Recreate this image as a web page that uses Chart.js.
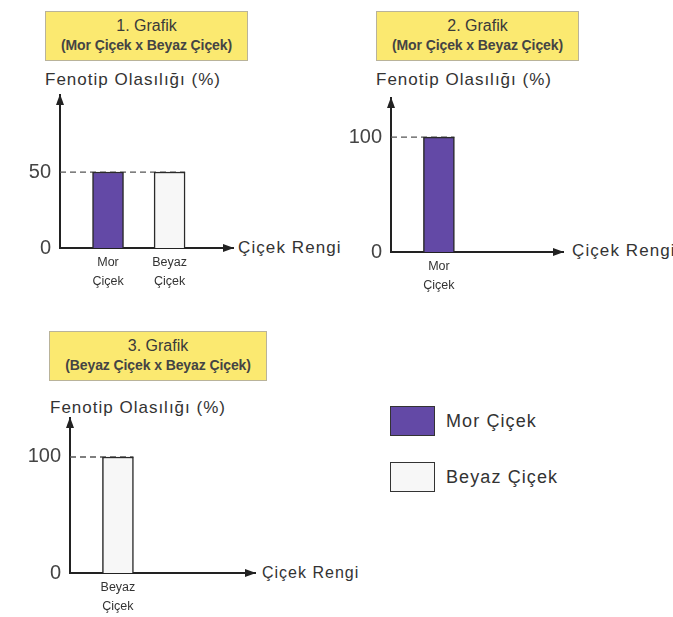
<!DOCTYPE html>
<html>
<head>
<meta charset="utf-8">
<script src="https://cdn.jsdelivr.net/npm/chart.js@4.4.1/dist/chart.umd.min.js"></script>
<style>
  html, body { margin:0; padding:0; background:#fff; }
  body { width:673px; height:617px; position:relative; overflow:hidden; font-family:"Liberation Sans", Arial, sans-serif; color:#333; }
  canvas { position:absolute; }
  .tbox { position:absolute; background:#fbe970; border:1px solid #b9b39a; box-sizing:border-box; text-align:center; color:#3a3a3a; white-space:nowrap; }
  .tbox .t1 { font-size:16px; line-height:18px; margin-top:5px; }
  .tbox .t2 { font-size:14px; line-height:18px; font-weight:bold; color:#444; margin-top:1px; letter-spacing:-0.1px; }
  .ylab { position:absolute; font-size:17px; letter-spacing:1px; color:#333; white-space:nowrap; line-height:20px; }
  .xlab { position:absolute; font-size:17px; letter-spacing:1.1px; color:#333; white-space:nowrap; line-height:20px; }
  .sw { position:absolute; width:45px; height:30px; box-sizing:border-box; border:1.5px solid #333; }
  .lt { position:absolute; font-size:18px; letter-spacing:1.1px; color:#333; white-space:nowrap; line-height:20px; }
</style>
</head>
<body>
<div class="tbox" style="left:45px;top:11px;width:203px;height:50px;"><div class="t1">1. Grafik</div><div class="t2">(Mor Çiçek x Beyaz Çiçek)</div></div>
<div class="ylab" style="left:45px;top:70px;">Fenotip Olasılığı (%)</div>
<div class="xlab" style="left:238px;top:238px;">Çiçek Rengi</div>
<canvas id="c1" width="350" height="300" style="left:0;top:0;"></canvas>

<div class="tbox" style="left:376px;top:11px;width:203px;height:50px;"><div class="t1">2. Grafik</div><div class="t2">(Mor Çiçek x Beyaz Çiçek)</div></div>
<div class="ylab" style="left:376px;top:70px;">Fenotip Olasılığı (%)</div>
<div class="xlab" style="left:572px;top:241px;">Çiçek Rengi</div>
<canvas id="c2" width="343" height="300" style="left:330px;top:0;"></canvas>

<div class="tbox" style="left:49px;top:331px;width:218px;height:50px;"><div class="t1">3. Grafik</div><div class="t2">(Beyaz Çiçek x Beyaz Çiçek)</div></div>
<div class="ylab" style="left:50px;top:398px;">Fenotip Olasılığı (%)</div>
<div class="xlab" style="left:262px;top:563px;font-size:16px;letter-spacing:1px;">Çiçek Rengi</div>
<canvas id="c3" width="360" height="297" style="left:0;top:320px;"></canvas>

<div class="sw" style="left:390px;top:406px;background:#6349a6;"></div>
<div class="lt" style="left:446px;top:411px;">Mor Çiçek</div>
<div class="sw" style="left:390px;top:462px;background:#f7f7f7;"></div>
<div class="lt" style="left:446px;top:467px;">Beyaz Çiçek</div>

<script>
// ---- data ----
const categories1 = ['Mor Çiçek', 'Beyaz Çiçek'];
const values1 = [50, 50];
const yTicks1 = [0, 50];

const categories2 = ['Mor Çiçek'];
const values2 = [100];
const yTicks2 = [0, 100];

const categories3 = ['Beyaz Çiçek'];
const values3 = [100];
const yTicks3 = [0, 100];

const colorOf = { 'Mor Çiçek': '#6349a6', 'Beyaz Çiçek': '#f7f7f7' };
const FONT = '"Liberation Sans", Arial, sans-serif';

const axisDeco = {
  id: 'axisDeco',
  beforeDatasetsDraw(chart) {
    const ctx = chart.ctx, ca = chart.chartArea;
    const y = chart.scales.y;
    const meta = chart.getDatasetMeta(0);
    const vals = chart.data.datasets[0].data.map(d => d.y);
    ctx.save();
    ctx.strokeStyle = '#555';
    ctx.lineWidth = 1.3;
    ctx.setLineDash([6, 4]);
    y.ticks.forEach(t => {
      if (t.value <= 0) return;
      let right = null;
      meta.data.forEach((el, i) => {
        if (vals[i] === t.value) right = el.x + el.width / 2;
      });
      if (right === null) return;
      const py = y.getPixelForValue(t.value);
      ctx.beginPath();
      ctx.moveTo(ca.left, py);
      ctx.lineTo(right, py);
      ctx.stroke();
    });
    ctx.restore();
  },
  afterDraw(chart) {
    const ctx = chart.ctx, ca = chart.chartArea;
    ctx.save();
    ctx.fillStyle = '#222';
    ctx.beginPath();
    ctx.moveTo(ca.left, ca.top - 1);
    ctx.lineTo(ca.left - 4, ca.top + 10);
    ctx.lineTo(ca.left + 4, ca.top + 10);
    ctx.closePath();
    ctx.fill();
    ctx.beginPath();
    ctx.moveTo(ca.right + 1, ca.bottom);
    ctx.lineTo(ca.right - 10, ca.bottom - 4);
    ctx.lineTo(ca.right - 10, ca.bottom + 4);
    ctx.closePath();
    ctx.fill();
    ctx.restore();
  }
};

function makeChart(id, cats, vals, yTicks, L) {
  return new Chart(document.getElementById(id), {
    type: 'bar',
    data: {
      datasets: [{
        data: cats.map((c, i) => ({ x: i + 1, y: vals[i] })),
        backgroundColor: cats.map(c => colorOf[c]),
        borderColor: '#2a2a2a',
        borderWidth: 1.5,
        barThickness: 31
      }]
    },
    options: {
      responsive: false,
      animation: false,
      events: [],
      layout: { padding: { left: 0, top: L.top, right: L.right, bottom: 0 } },
      plugins: { legend: { display: false }, tooltip: { enabled: false } },
      scales: {
        x: {
          type: 'linear',
          offset: false,
          min: L.xMin, max: L.xMax,
          grid: { display: false, drawTicks: false, offset: false },
          border: { display: true, color: '#222', width: 2 },
          afterBuildTicks: s => { s.ticks = cats.map((c, i) => ({ value: i + 1 })); },
          afterFit: s => { s.height = L.xH; },
          ticks: {
            autoSkip: false, maxRotation: 0, padding: 5,
            color: '#333',
            font: { family: FONT, size: 12.5, lineHeight: 1.5 },
            callback: v => { const c = cats[Math.round(v) - 1]; return c ? c.split(' ') : ''; }
          }
        },
        y: {
          min: 0, max: L.yMax,
          grid: { display: false, drawTicks: false },
          border: { display: true, color: '#222', width: 2 },
          afterBuildTicks: s => { s.ticks = yTicks.map(v => ({ value: v })); },
          afterFit: s => { s.width = L.yW; },
          ticks: {
            padding: 9, color: '#444',
            font: { family: FONT, size: 20 }
          }
        }
      }
    },
    plugins: [axisDeco]
  });
}

makeChart('c1', categories1, values1, yTicks1, { yW: 60, top: 95, xH: 52, right: 117, xMin: 0.22, xMax: 3.03, yMax: 100.7 });
makeChart('c2', categories2, values2, yTicks2, { yW: 61, top: 98, xH: 48, right: 110, xMin: 0.22, xMax: 3.02, yMax: 134 });
makeChart('c3', categories3, values3, yTicks3, { yW: 70, top: 98, xH: 44, right: 105, xMin: 0.22, xMax: 3.23, yMax: 133.6 });
</script>
</body>
</html>
